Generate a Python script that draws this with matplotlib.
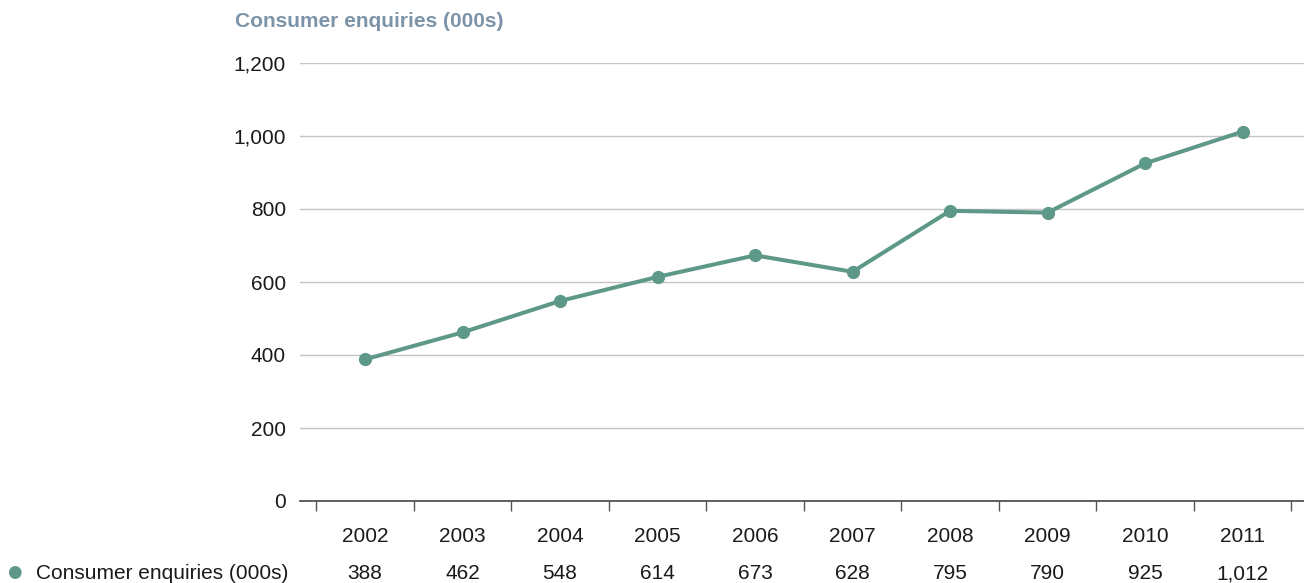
import matplotlib.pyplot as plt
import numpy as np

years = ['2002', '2003', '2004', '2005', '2006', '2007', '2008', '2009', '2010', '2011']
enquiries = [388, 462, 548, 614, 673, 628, 795, 790, 925, 1012]
series_name = 'Consumer enquiries (000s)'
yticks = [0, 200, 400, 600, 800, 1000, 1200]

teal = '#5d9888'
title_col = '#7d94a8'
text_col = '#1a1a1a'
fs = 15

plt.rcParams['font.family'] = ['Liberation Sans', 'DejaVu Sans']

fig = plt.figure(figsize=(13.04, 5.83), dpi=100)
ax = fig.add_axes([300 / 1304, (583 - 501) / 583, 1 - 300 / 1304, (501 - 63) / 583])

x = np.arange(len(years))
ax.plot(x, enquiries, color=teal, lw=2.9, marker='o', ms=8.5, zorder=3, clip_on=False)

ax.set_xlim(-0.667, 9.63)
ax.set_ylim(0, 1200)
ax.set_yticks(yticks)
ax.set_yticklabels([f'{v:,}' for v in yticks], fontsize=fs, color=text_col)
ax.yaxis.grid(True, color='#c4c4c4', lw=1)
ax.set_axisbelow(True)
ax.tick_params(axis='y', length=0, pad=10)

# category boundaries as ticks, labels placed by hand in the table rows
ax.set_xticks(np.arange(-0.5, len(years) + 0.5, 1))
ax.set_xticklabels([])
ax.tick_params(axis='x', direction='out', length=7, width=1, color='#555555')

for s in ['top', 'right', 'left']:
    ax.spines[s].set_visible(False)
ax.spines['bottom'].set_color('#444444')
ax.spines['bottom'].set_linewidth(1.2)

# table rows under the axis: years, then values (pixel baselines)
year_base = 1 - 542 / 583
value_base = 1 - 579 / 583
for i, (yr, v) in enumerate(zip(years, enquiries)):
    xf = (300 + (i + 0.667) / 10.297 * 1004) / 1304
    fig.text(xf, year_base, yr, ha='center', va='baseline', fontsize=fs, color=text_col)
    fig.text(xf, value_base, f'{v:,}', ha='center', va='baseline', fontsize=fs, color=text_col)

fig.text(14 / 1304, 1 - 572 / 583, '\u25cf', color=teal, fontsize=12,
         ha='center', va='center', family='DejaVu Sans')
fig.text(36 / 1304, value_base, series_name, fontsize=fs, color=text_col,
         ha='left', va='baseline')

fig.text(235 / 1304, 1 - 27 / 583, series_name, fontsize=fs, color=title_col,
         fontweight='bold', ha='left', va='baseline')

fig.savefig('out.png', dpi=100)
